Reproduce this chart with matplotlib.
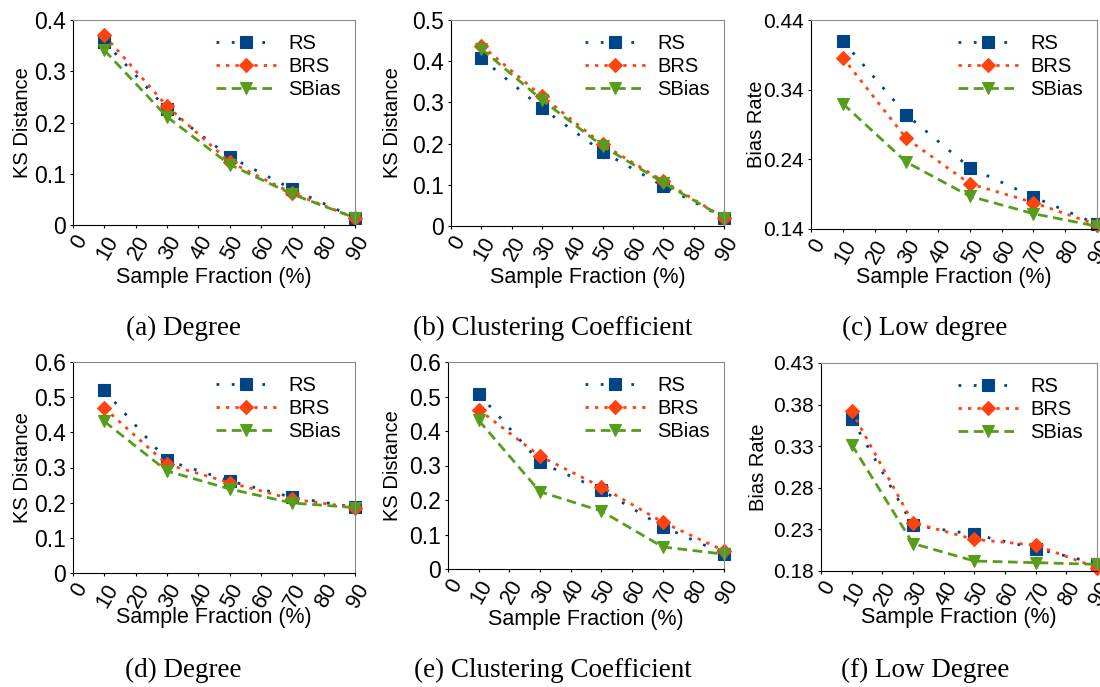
import matplotlib.pyplot as plt

plt.rcParams['font.family'] = ['Liberation Sans', 'DejaVu Sans']

fractions = [10, 30, 50, 70, 90]

# (a) degree, KS distance
deg_ks_rs = [0.358, 0.226, 0.133, 0.070, 0.014]
deg_ks_brs = [0.370, 0.232, 0.123, 0.062, 0.014]
deg_ks_sbias = [0.341, 0.211, 0.118, 0.060, 0.014]

# (b) clustering coefficient, KS distance
cc_ks_rs = [0.407, 0.286, 0.180, 0.097, 0.020]
cc_ks_brs = [0.438, 0.315, 0.198, 0.109, 0.020]
cc_ks_sbias = [0.430, 0.306, 0.194, 0.105, 0.020]

# (c) low degree, bias rate
low_bias_rs = [0.410, 0.304, 0.228, 0.186, 0.147]
low_bias_brs = [0.386, 0.270, 0.205, 0.178, 0.146]
low_bias_sbias = [0.320, 0.236, 0.187, 0.162, 0.144]

# (d) degree, KS distance (second dataset)
deg2_ks_rs = [0.519, 0.320, 0.262, 0.215, 0.187]
deg2_ks_brs = [0.469, 0.309, 0.257, 0.210, 0.186]
deg2_ks_sbias = [0.431, 0.290, 0.239, 0.199, 0.186]

# (e) clustering coefficient, KS distance (second dataset)
cc2_ks_rs = [0.508, 0.309, 0.229, 0.123, 0.044]
cc2_ks_brs = [0.462, 0.327, 0.238, 0.136, 0.053]
cc2_ks_sbias = [0.431, 0.224, 0.168, 0.064, 0.043]

# (f) low degree, bias rate (second dataset)
low2_bias_rs = [0.363, 0.235, 0.224, 0.207, 0.189]
low2_bias_brs = [0.372, 0.238, 0.218, 0.211, 0.184]
low2_bias_sbias = [0.332, 0.213, 0.192, 0.190, 0.188]

captions = ['(a) Degree', '(b) Clustering Coefficient', '(c) Low degree',
            '(d) Degree', '(e) Clustering Coefficient', '(f) Low Degree']
ylabels = ['KS Distance', 'KS Distance', 'Bias Rate',
           'KS Distance', 'KS Distance', 'Bias Rate']
yticks = [[0, 0.1, 0.2, 0.3, 0.4],
          [0, 0.1, 0.2, 0.3, 0.4, 0.5],
          [0.14, 0.24, 0.34, 0.44],
          [0, 0.1, 0.2, 0.3, 0.4, 0.5, 0.6],
          [0, 0.1, 0.2, 0.3, 0.4, 0.5, 0.6],
          [0.18, 0.23, 0.28, 0.33, 0.38, 0.43]]
ytick_fmt = ['{:g}', '{:g}', '{:.2f}', '{:g}', '{:g}', '{:.2f}']
ytick_size = [16.5, 16.5, 15, 16.5, 16.5, 15]
xticks = [0, 10, 20, 30, 40, 50, 60, 70, 80, 90]

series = [
    (deg_ks_rs, deg_ks_brs, deg_ks_sbias),
    (cc_ks_rs, cc_ks_brs, cc_ks_sbias),
    (low_bias_rs, low_bias_brs, low_bias_sbias),
    (deg2_ks_rs, deg2_ks_brs, deg2_ks_sbias),
    (cc2_ks_rs, cc2_ks_brs, cc2_ks_sbias),
    (low2_bias_rs, low2_bias_brs, low2_bias_sbias),
]

W, H = 1100, 687
# axes boxes in pixels: left, top, right, bottom
boxes = [(73, 20, 355, 225), (451, 20, 724, 226), (811, 20, 1097, 229),
         (73, 362, 355, 573), (448, 362, 724, 569), (821, 363, 1097, 571)]
ylabel_cx = [22, 393, 757, 22, 393, 759]
xlabel_y = [278, 278, 278, 617, 619, 617]
caption_pos = [(183, 328), (553, 328), (925, 328),
               (183, 670), (553, 670), (925, 670)]

styles = [
    dict(label='RS', color='#004586', linestyle=(0, (1, 4.5)), linewidth=2,
         marker='s', markersize=9),
    dict(label='BRS', color='#ff420e', linestyle=(0, (1.2, 2.2)), linewidth=2,
         marker='D', markersize=7.5),
    dict(label='SBias', color='#579d1c', linestyle=(0, (3.5, 2)), linewidth=2,
         marker='v', markersize=9),
]

fig = plt.figure(figsize=(11, 6.87), dpi=100)

for i, (l, t, r, b) in enumerate(boxes):
    ax = fig.add_axes([l / W, 1 - b / H, (r - l) / W, (b - t) / H])
    for vals, st in zip(series[i], styles):
        ax.plot(fractions, vals, markeredgewidth=0.8, clip_on=False, **st)
    ax.set_xlim(0, 90)
    ax.set_ylim(yticks[i][0], yticks[i][-1])
    ax.set_xticks(xticks)
    ax.set_xticklabels([str(x) for x in xticks], rotation=60, ha='right',
                       rotation_mode='anchor', fontsize=15.5)
    ax.set_yticks(yticks[i])
    ax.set_yticklabels([ytick_fmt[i].format(v) for v in yticks[i]],
                       fontsize=ytick_size[i])
    ax.tick_params(axis='both', length=2, width=0.8, pad=3)
    for s in ('top', 'right'):
        ax.spines[s].set_color('#8a8a8a')
    ax.set_ylabel(ylabels[i], fontsize=14.5)
    ax.yaxis.label.set_va('center')
    ax.yaxis.set_label_coords((ylabel_cx[i] - l) / (r - l), 0.5)
    fig.text((l + r) / 2 / W, 1 - xlabel_y[i] / H, 'Sample Fraction (%)',
             fontsize=15.5, ha='center', va='center')
    ax.legend(loc='upper right', bbox_to_anchor=(1.0, 1.0), frameon=False,
              fontsize=14.5, handlelength=3.0, handletextpad=0.6,
              labelspacing=0.2, borderaxespad=0.3)
    cx, cy = caption_pos[i]
    fig.text(cx / W, 1 - cy / H, captions[i], fontsize=19.5, ha='center',
             va='center', family=['Liberation Serif', 'DejaVu Serif'])

fig.savefig('out.png', dpi=100)
